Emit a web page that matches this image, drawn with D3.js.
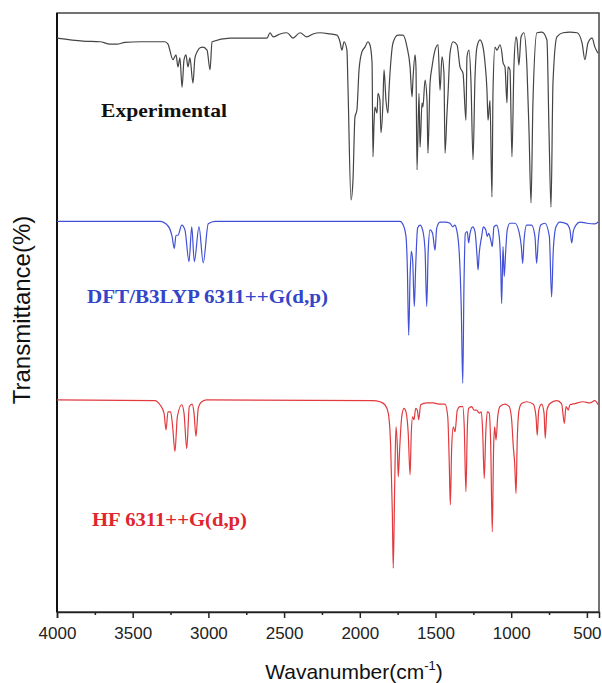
<!DOCTYPE html>
<html>
<head>
<meta charset="utf-8">
<script src="https://cdn.jsdelivr.net/npm/d3@7"></script>
<style>
  body { margin: 0; background: #fff; }
  svg { display: block; }
</style>
</head>
<body>
<script>
// Wavenumber ticks (cm-1)
const xTicks = [4000, 3500, 3000, 2500, 2000, 1500, 1000, 500];
const xMinorTicks = [3750, 3250, 2750, 2250, 1750, 1250, 750];

// Spectra: [wavenumber, transmittance (arb. %)]
const experimental = [
  [4000, 95.8], [3828, 95.3], [3716, 95.2], [3650, 94.8], [3604, 94.8], [3551, 95.1],
  [3452, 95.2], [3287, 95.2], [3267, 94.8], [3234, 92.2], [3214, 93.0], [3201, 91.0],
  [3188, 92.5], [3174, 87.6], [3161, 92.2], [3148, 93.0], [3135, 91.0], [3122, 92.5],
  [3102, 88.3], [3089, 92.5], [3075, 93.5], [3055, 94.2], [3036, 94.3], [3009, 93.8],
  [2989, 90.5], [2976, 95.2], [2857, 95.8], [2613, 95.8], [2593, 96.7], [2573, 96.0],
  [2527, 96.5], [2481, 96.7], [2441, 95.8], [2395, 96.7], [2349, 96.0], [2309, 96.5],
  [2263, 96.7], [2197, 96.5], [2151, 96.3], [2131, 95.2], [2118, 93.8], [2104, 95.2],
  [2085, 93.8], [2078, 87.6], [2058, 68.8], [2045, 72.1], [2032, 82.6], [2019, 83.8],
  [2005, 90.5], [1986, 93.5], [1966, 94.3], [1946, 95.2], [1933, 94.7], [1919, 91.7],
  [1913, 76.0], [1906, 81.6], [1900, 84.3], [1886, 83.3], [1880, 86.6], [1867, 85.4],
  [1860, 80.0], [1847, 85.0], [1840, 90.5], [1827, 85.4], [1814, 83.3], [1807, 87.1],
  [1794, 92.2], [1781, 95.0], [1748, 96.3], [1715, 96.3], [1688, 94.3], [1668, 91.0],
  [1655, 86.0], [1649, 88.8], [1635, 93.0], [1629, 91.0], [1622, 73.8], [1609, 86.6],
  [1602, 77.6], [1589, 85.0], [1583, 84.3], [1569, 88.8], [1556, 85.4], [1550, 76.6],
  [1536, 88.3], [1523, 91.0], [1503, 93.8], [1483, 94.7], [1470, 87.1], [1457, 92.7],
  [1444, 89.9], [1437, 76.6], [1424, 83.3], [1417, 86.6], [1404, 93.3], [1384, 95.2],
  [1358, 94.7], [1338, 91.0], [1318, 89.9], [1299, 82.1], [1292, 92.7], [1279, 93.8],
  [1266, 88.8], [1252, 75.5], [1239, 89.3], [1226, 94.3], [1206, 95.5], [1186, 94.3],
  [1173, 91.7], [1160, 87.1], [1153, 82.1], [1140, 85.4], [1127, 69.3], [1120, 87.1],
  [1107, 94.3], [1094, 93.8], [1074, 94.7], [1061, 93.3], [1054, 91.7], [1041, 91.0],
  [1028, 85.0], [1021, 91.0], [1008, 90.5], [995, 76.0], [982, 91.0], [968, 96.0],
  [962, 95.5], [949, 91.3], [935, 96.0], [916, 96.7], [896, 91.0], [882, 80.0],
  [869, 68.3], [856, 85.4], [830, 96.7], [797, 96.8], [764, 95.5], [750, 80.0],
  [737, 67.6], [724, 88.3], [698, 96.0], [658, 96.7], [612, 96.8], [565, 96.7],
  [532, 95.0], [513, 92.2], [493, 95.0], [466, 95.8], [447, 94.3], [427, 93.3]
];

const dft = [
  [4000, 65.2], [3320, 65.2], [3265, 64.4], [3240, 62.7], [3225, 60.7], [3214, 62.9],
  [3201, 62.9], [3176, 64.6], [3155, 63.8], [3128, 58.5], [3110, 64.3], [3093, 58.5],
  [3062, 64.3], [3034, 58.3], [3001, 64.8], [2956, 65.2], [1735, 65.2], [1713, 64.6],
  [1695, 62.7], [1686, 57.6], [1677, 46.2], [1668, 56.0], [1660, 60.2], [1651, 58.8],
  [1640, 51.0], [1631, 57.6], [1618, 64.1], [1602, 64.6], [1585, 63.8], [1569, 60.4],
  [1558, 51.0], [1548, 60.4], [1536, 63.8], [1519, 63.2], [1503, 60.4], [1492, 64.1],
  [1470, 65.1], [1437, 65.1], [1404, 64.9], [1386, 64.3], [1373, 64.6], [1360, 63.8],
  [1343, 59.9], [1330, 51.0], [1320, 38.2], [1312, 54.3], [1303, 63.2], [1290, 63.5],
  [1281, 61.6], [1272, 63.2], [1254, 64.3], [1239, 63.5], [1226, 59.6], [1219, 57.1],
  [1211, 59.9], [1195, 62.7], [1184, 64.3], [1168, 63.8], [1158, 62.7], [1149, 63.2],
  [1135, 62.1], [1125, 61.0], [1114, 64.3], [1096, 64.6], [1079, 62.7], [1069, 57.6],
  [1063, 51.5], [1054, 61.0], [1046, 56.0], [1036, 60.4], [1026, 63.8], [1008, 64.9],
  [975, 64.9], [946, 63.2], [933, 61.0], [924, 58.2], [915, 62.1], [898, 64.6],
  [865, 64.6], [843, 62.7], [832, 58.2], [821, 62.1], [805, 64.6], [777, 64.9],
  [748, 62.7], [733, 52.6], [722, 60.4], [704, 64.3], [678, 65.1], [633, 64.8],
  [612, 63.8], [600, 61.6], [590, 63.5], [572, 64.6], [546, 65.1], [501, 64.9],
  [447, 64.8], [425, 65.1]
];

const hf = [
  [4000, 35.4], [3353, 35.3], [3320, 34.6], [3293, 33.2], [3280, 30.4], [3267, 33.4],
  [3249, 33.4], [3236, 30.9], [3221, 26.8], [3205, 32.6], [3176, 34.6], [3161, 33.2],
  [3143, 27.3], [3126, 34.3], [3108, 34.7], [3095, 33.2], [3082, 29.3], [3067, 34.0],
  [3044, 35.1], [3011, 35.4], [1913, 35.3], [1867, 35.1], [1834, 34.6], [1812, 33.2],
  [1796, 27.6], [1785, 16.5], [1779, 7.3], [1769, 22.0], [1761, 30.9], [1752, 27.6],
  [1746, 22.6], [1736, 27.6], [1723, 32.6], [1708, 34.0], [1695, 33.4], [1680, 29.8],
  [1668, 22.9], [1660, 29.8], [1651, 32.6], [1642, 32.1], [1631, 34.0], [1620, 33.7],
  [1611, 32.1], [1598, 34.6], [1558, 34.9], [1515, 34.9], [1470, 34.7], [1437, 34.7],
  [1419, 32.6], [1409, 24.8], [1402, 17.9], [1393, 27.6], [1382, 30.9], [1371, 30.1],
  [1356, 33.7], [1338, 34.3], [1320, 34.3], [1310, 30.9], [1299, 20.1], [1290, 30.4],
  [1281, 34.0], [1261, 34.3], [1246, 33.7], [1228, 33.7], [1211, 33.2], [1197, 33.4],
  [1188, 29.8], [1178, 22.3], [1168, 29.8], [1158, 33.4], [1145, 33.2], [1135, 27.6],
  [1125, 13.4], [1116, 27.6], [1109, 30.9], [1100, 28.7], [1089, 32.6], [1074, 34.3],
  [1041, 34.7], [1013, 34.3], [997, 32.1], [986, 27.6], [977, 24.8], [968, 19.8],
  [960, 28.7], [948, 33.7], [931, 34.8], [898, 35.1], [854, 34.7], [836, 32.6],
  [828, 29.5], [818, 33.7], [799, 34.7], [783, 33.2], [775, 29.0], [764, 33.7],
  [744, 34.8], [699, 35.3], [667, 34.8], [649, 31.5], [638, 34.3], [623, 33.7],
  [612, 34.6], [579, 34.8], [524, 35.1], [480, 34.9], [447, 35.3], [425, 34.6]
];

// Dimensions
const width = 602;
const height = 683;
const mLeft = 57, mRight = 599, mTop = 13, mBottom = 612;

const svg = d3.select("body")
  .append("svg")
  .attr("width", width)
  .attr("height", height);

// Scales
const x = d3.scaleLinear()
  .domain([4000, 420])
  .range([mLeft, mRight]);

const y = d3.scaleLinear()
  .domain([0, 100])
  .range([mBottom, mTop]);

// Frame
svg.append("rect")
  .attr("x", mLeft)
  .attr("y", mTop)
  .attr("width", mRight - mLeft)
  .attr("height", mBottom - mTop)
  .attr("fill", "none")
  .attr("stroke", "#444")
  .attr("stroke-width", 1.5);

svg.append("line")
  .attr("x1", mLeft).attr("x2", mLeft)
  .attr("y1", mTop).attr("y2", mBottom)
  .attr("stroke", "#111")
  .attr("stroke-width", 2);

// X axis
const xAxis = svg.append("g")
  .attr("transform", "translate(0," + mBottom + ")")
  .call(d3.axisBottom(x).tickValues(xTicks).tickSize(6).tickPadding(9).tickFormat(d3.format("d")));

xAxis.select(".domain").attr("stroke", "#222").attr("stroke-width", 1.5);
xAxis.selectAll(".tick line").attr("stroke", "#222").attr("stroke-width", 1.5);
xAxis.selectAll("text")
  .attr("font-family", "Liberation Sans, Arial, sans-serif")
  .attr("font-size", 17)
  .attr("fill", "#222");

svg.append("g")
  .attr("transform", "translate(0," + mBottom + ")")
  .call(d3.axisBottom(x).tickValues(xMinorTicks).tickSize(3).tickFormat(""))
  .call(g => g.select(".domain").remove())
  .selectAll(".tick line").attr("stroke", "#222").attr("stroke-width", 1.5);

// Axis titles
const xTitle = svg.append("text")
  .attr("x", 354)
  .attr("y", 679)
  .attr("text-anchor", "middle")
  .attr("font-family", "Liberation Sans, Arial, sans-serif")
  .attr("font-size", 21)
  .attr("fill", "#111");
xTitle.append("tspan").text("Wavanumber(cm");
xTitle.append("tspan").text("-1").attr("font-size", 13).attr("dy", -9);
xTitle.append("tspan").text(")").attr("dy", 9);

svg.append("text")
  .attr("transform", "translate(30,310) rotate(-90)")
  .attr("text-anchor", "middle")
  .attr("font-family", "Liberation Sans, Arial, sans-serif")
  .attr("font-size", 24)
  .attr("fill", "#111")
  .text("Transmittance(%)");

// Lines
const line = d3.line()
  .x(d => x(d[0]))
  .y(d => y(d[1]))
  .curve(d3.curveMonotoneX);

const series = [
  { data: experimental, color: "#444" },
  { data: dft, color: "#4150d6" },
  { data: hf, color: "#e23a3e" }
];

svg.append("g")
  .selectAll("path")
  .data(series).enter()
  .append("path")
  .attr("d", d => line(d.data))
  .attr("fill", "none")
  .attr("stroke", d => d.color)
  .attr("stroke-width", 1.2);

// Labels
const labels = [
  { text: "Experimental", x: 101, y: 117, color: "#111", len: 126 },
  { text: "DFT/B3LYP 6311++G(d,p)", x: 87, y: 303, color: "#3345c8", len: 241 },
  { text: "HF 6311++G(d,p)", x: 92, y: 526, color: "#e0252e", len: 155 }
];

svg.append("g")
  .selectAll("text")
  .data(labels).enter()
  .append("text")
  .attr("x", d => d.x)
  .attr("y", d => d.y)
  .attr("textLength", d => d.len)
  .attr("lengthAdjust", "spacingAndGlyphs")
  .attr("font-family", "Liberation Serif, Times New Roman, serif")
  .attr("font-weight", "bold")
  .attr("font-size", 19)
  .attr("fill", d => d.color)
  .text(d => d.text);
</script>
</body>
</html>
